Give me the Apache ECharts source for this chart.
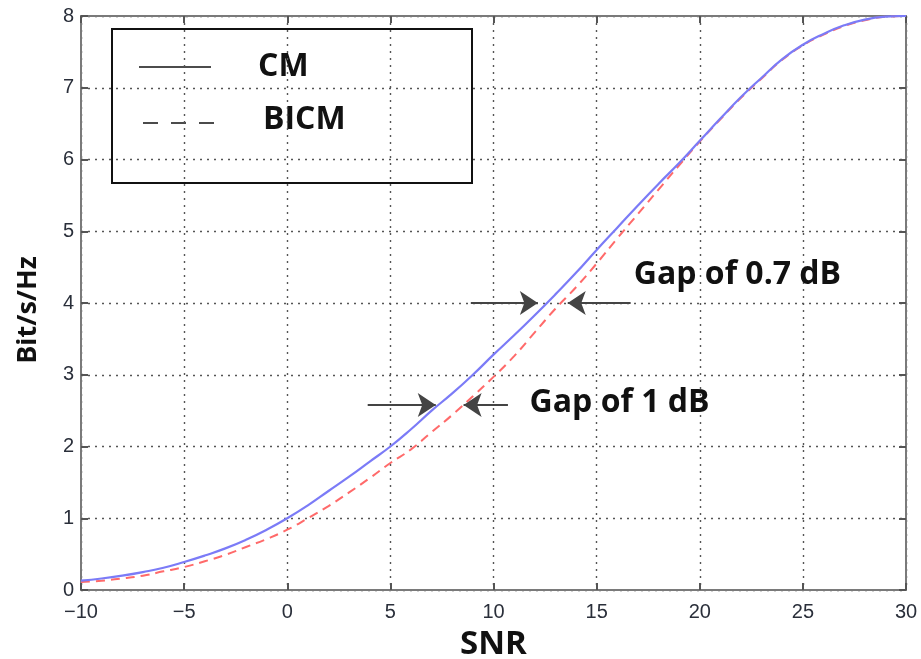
<!DOCTYPE html>
<html>
<head>
<meta charset="utf-8">
<script src="https://cdn.jsdelivr.net/npm/echarts@6/dist/echarts.min.js"></script>
<style>
html,body{margin:0;padding:0;background:#fff;}
#chart{width:921px;height:659px;}
</style>
</head>
<body>
<div id="chart"></div>
<script>
// ---- data ----
const snr  = [-10,-9,-8,-7,-6,-5,-4,-3,-2,-1,0,1,2,3,4,5,6,7,8,9,10,11,12,13,14,15,16,17,18,19,20,21,22,23,24,25,26,27,28,29,30];
const cm   = [0.13,0.16,0.20,0.25,0.31,0.39,0.48,0.58,0.70,0.84,1.00,1.18,1.38,1.58,1.79,2.00,2.24,2.50,2.74,3.00,3.28,3.55,3.83,4.12,4.42,4.74,5.05,5.36,5.66,5.95,6.26,6.57,6.87,7.14,7.40,7.60,7.75,7.87,7.95,7.99,8.00];
const bicm = [0.11,0.13,0.16,0.20,0.26,0.32,0.40,0.49,0.60,0.71,0.84,1.00,1.17,1.36,1.56,1.77,1.96,2.20,2.44,2.70,2.97,3.26,3.59,3.92,4.22,4.55,4.90,5.24,5.58,5.92,6.25,6.56,6.86,7.13,7.39,7.59,7.74,7.86,7.94,7.99,8.00];
const xTicks = [-10,-5,0,5,10,15,20,25,30];
const yTicks = [0,1,2,3,4,5,6,7,8];
// gap arrows: [fromX, toX, y]
const gapArrows = [
  [3.9, 7.2, 2.58],
  [10.7, 8.55, 2.58],
  [8.9, 12.15, 4.0],
  [16.65, 13.6, 4.0]
];
// gap labels: [text, x, y]
const gapLabels = [
  ['Gap of 0.7 dB', 16.8, 4.39],
  ['Gap of 1 dB', 11.75, 2.61]
];
const seriesNames = ['CM', 'BICM'];

const chart = echarts.init(document.getElementById('chart'), null, {renderer:'canvas'});
const boldFont = '"Open Sans", "Noto Sans", sans-serif';
const tickFont = '"Liberation Sans", Arial, sans-serif';
const axisGrey = '#7a7a7a';
const gridStyle = {show:true, lineStyle:{color:'#555', width:1.4, type:[2,5]}};

const option = {
  animation:false,
  backgroundColor:'#fff',
  grid:{left:81, right:15, top:16, bottom:69, containLabel:false, outerBoundsMode:'none'},
  xAxis:[{
    type:'value', min:xTicks[0], max:xTicks[xTicks.length-1], interval:5,
    name:'SNR', nameLocation:'middle', nameGap:38,
    nameTextStyle:{fontFamily:boldFont, fontWeight:'bold', fontSize:33, color:'#111'},
    axisLine:{show:true, onZero:false, lineStyle:{color:axisGrey, width:2}},
    axisTick:{show:true, inside:true, length:7, lineStyle:{color:'#555', width:2}},
    axisLabel:{margin:12, fontFamily:tickFont, fontSize:20, color:'#2a2f3a',
      formatter:v => String(v).replace('-', '\u2212')},
    splitLine:gridStyle
  },{
    type:'value', position:'top', min:xTicks[0], max:xTicks[xTicks.length-1], interval:5,
    axisLine:{show:true, onZero:false, lineStyle:{color:axisGrey, width:2}},
    axisTick:{show:true, inside:true, length:7, lineStyle:{color:'#555', width:2}},
    axisLabel:{show:false}, splitLine:{show:false}
  }],
  yAxis:[{
    type:'value', min:yTicks[0], max:yTicks[yTicks.length-1], interval:1,
    name:'Bit/s/Hz', nameLocation:'middle', nameGap:39,
    nameTextStyle:{fontFamily:boldFont, fontWeight:'bold', fontSize:27, color:'#111', padding:[0,14,0,0]},
    axisLine:{show:true, onZero:false, lineStyle:{color:axisGrey, width:2}},
    axisTick:{show:true, inside:true, length:7, lineStyle:{color:'#555', width:2}},
    axisLabel:{margin:7, fontFamily:tickFont, fontSize:20, color:'#2a2f3a'},
    splitLine:gridStyle
  },{
    type:'value', position:'right', min:yTicks[0], max:yTicks[yTicks.length-1], interval:1,
    axisLine:{show:true, onZero:false, lineStyle:{color:axisGrey, width:2}},
    axisTick:{show:true, inside:true, length:7, lineStyle:{color:'#555', width:2}},
    axisLabel:{show:false}, splitLine:{show:false}
  }],
  series:[
    {
      name:seriesNames[1], type:'line', smooth:true, symbol:'none',
      data:snr.map((x,i)=>[x,bicm[i]]),
      lineStyle:{color:'#ff6a6a', width:2, type:[9,6]}, z:3
    },
    {
      name:seriesNames[0], type:'line', smooth:true, symbol:'none',
      data:snr.map((x,i)=>[x,cm[i]]),
      lineStyle:{color:'#7b7bf7', width:2.2}, z:4
    },
    {
      name:'annotations', type:'line', data:[], symbol:'none', z:5,
      markLine:{
        silent:true, symbol:['none','arrow'], symbolSize:18,
        lineStyle:{color:'#444', width:2, type:'solid'},
        itemStyle:{color:'#111'},
        label:{show:false},
        data:gapArrows.map(a=>[{coord:[a[0],a[2]]},{coord:[a[1],a[2]]}])
      },
      markPoint:{
        silent:true, symbol:'circle', symbolSize:0,
        label:{show:true, position:'right', distance:0,
          fontFamily:boldFont, fontWeight:'bold', fontSize:32, color:'#111',
          formatter:p=>p.name},
        data:gapLabels.map(g=>({name:g[0], coord:[g[1],g[2]]}))
      }
    }
  ],
  graphic:[{
    type:'group', left:111, top:28,
    children:[
      {type:'rect', shape:{x:0,y:0,width:360,height:154}, style:{fill:'#fff', stroke:'#111', lineWidth:2}},
      {type:'line', shape:{x1:27,y1:38,x2:99,y2:38}, style:{stroke:'#111', lineWidth:1.6}},
      {type:'text', x:146, y:38, style:{text:seriesNames[0], fontFamily:boldFont, fontWeight:'bold', fontSize:32, fill:'#111', verticalAlign:'middle'}},
      {type:'line', shape:{x1:31,y1:94,x2:103,y2:94}, style:{stroke:'#111', lineWidth:1.6, lineDash:[15,13]}},
      {type:'text', x:151, y:91, style:{text:seriesNames[1], fontFamily:boldFont, fontWeight:'bold', fontSize:32, fill:'#111', verticalAlign:'middle'}}
    ]
  }]
};
chart.setOption(option);
</script>
</body>
</html>
